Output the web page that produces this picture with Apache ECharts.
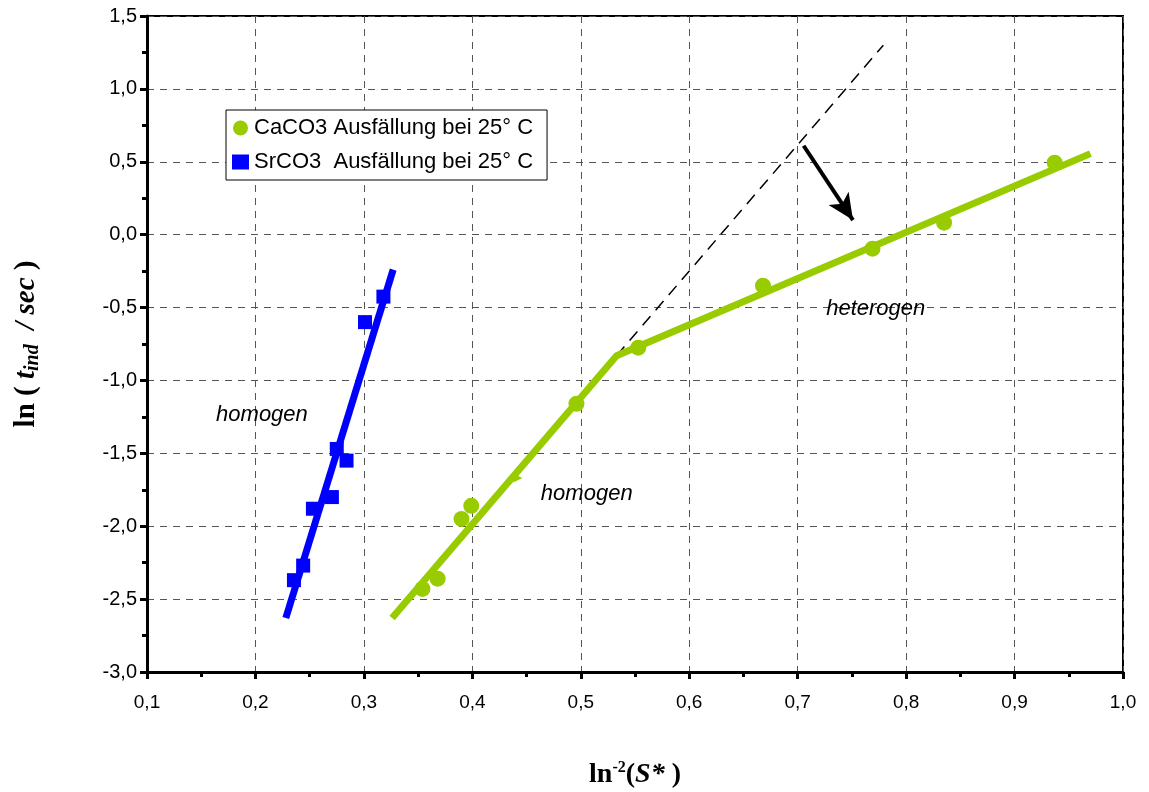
<!DOCTYPE html>
<html>
<head>
<meta charset="utf-8">
<script src="https://cdn.jsdelivr.net/npm/echarts@6/dist/echarts.min.js"></script>
<style>
  html, body { margin: 0; padding: 0; background: #fff; }
  #main { width: 1149px; height: 792px; }
</style>
</head>
<body>
<div id="main"></div>
<script>
// Messpunkte
var caco3X = [0.354, 0.368, 0.390, 0.399, 0.496, 0.553, 0.668, 0.769, 0.835, 0.937];
var caco3Y = [-2.43, -2.36, -1.95, -1.86, -1.16, -0.775, -0.35, -0.096, 0.082, 0.494];
var srco3X = [0.2355, 0.244, 0.253, 0.2705, 0.275, 0.284, 0.301, 0.318];
var srco3Y = [-2.37, -2.27, -1.88, -1.80, -1.47, -1.55, -0.60, -0.425];

// Ausgleichsgeraden
var caFitX = [0.326, 0.533, 0.970];
var caFitY = [-2.63, -0.83, 0.556];
var srFitX = [0.228, 0.327];
var srFitY = [-2.63, -0.24];
var extX = [0.533, 0.779];
var extY = [-0.83, 1.30];
var arrowX = [0.7055, 0.751];
var arrowY = [0.61, 0.10];

// Beschriftungen
var notes = [
  { name: 'homogen', x: 0.206, y: -1.235 },
  { name: 'homogen', x: 0.5055, y: -1.776 },
  { name: 'heterogen', x: 0.772, y: -0.508 }
];

function pairs(xs, ys) {
  return xs.map(function (x, i) { return [x, ys[i]]; });
}

var green = '#99cc00';
var blue = '#0000ff';
var fmt = function (v) { return v.toFixed(1).replace('.', ','); };

var myChart = echarts.init(document.getElementById('main'));
var option = {
  animation: false,
  backgroundColor: '#fff',
  grid: {
    left: 147, right: 26, top: 16, bottom: 120,
    outerBoundsMode: 'none',
    show: true, borderColor: '#000', borderWidth: 2
  },
  legend: {
    data: [
      { name: 'CaCO3 Ausfällung bei 25° C', icon: 'circle' },
      { name: 'SrCO3  Ausfällung bei 25° C', icon: 'rect' }
    ],
    orient: 'vertical',
    left: 226, top: 110,
    backgroundColor: '#fff',
    borderColor: '#000',
    borderWidth: 1,
    borderRadius: 0,
    padding: [7, 14, 7, 6],
    itemGap: 12,
    itemWidth: 17, itemHeight: 15,
    textStyle: { fontFamily: 'Liberation Sans', fontSize: 22, color: '#000' }
  },
  xAxis: {
    type: 'value', min: 0.1, max: 1.0, interval: 0.1,
    name: '{b|ln}{sup|-2}{b|(}{bi|S*}{b| )}',
    nameLocation: 'middle', nameGap: 88,
    nameTextStyle: {
      rich: {
        b: { fontFamily: 'Liberation Serif', fontWeight: 'bold', fontSize: 28, color: '#000' },
        bi: { fontFamily: 'Liberation Serif', fontWeight: 'bold', fontStyle: 'italic', fontSize: 28, color: '#000' },
        sup: { fontFamily: 'Liberation Serif', fontWeight: 'bold', fontSize: 16, color: '#000', padding: [0, 0, 14, 0] }
      }
    },
    axisLine: { show: true, onZero: false, lineStyle: { color: '#000', width: 3 } },
    axisTick: { show: true, length: 7, lineStyle: { color: '#000', width: 3 } },
    minorTick: { show: true, splitNumber: 2, length: 5, lineStyle: { color: '#000', width: 3 } },
    axisLabel: {
      margin: 21, fontFamily: 'Liberation Sans', fontSize: 19, color: '#000',
      formatter: fmt
    },
    splitLine: { show: true, lineStyle: { color: '#555', width: 1, type: [7, 6] } }
  },
  yAxis: {
    type: 'value', min: -3, max: 1.5, interval: 0.5,
    name: '{b|ln ( }{bi|t}{sub|ind}{bi|  / sec }{b|)}',
    nameLocation: 'middle', nameGap: 104,
    nameTextStyle: {
      rich: {
        b: { fontFamily: 'Liberation Serif', fontWeight: 'bold', fontSize: 29, color: '#000' },
        bi: { fontFamily: 'Liberation Serif', fontWeight: 'bold', fontStyle: 'italic', fontSize: 29, color: '#000' },
        sub: { fontFamily: 'Liberation Serif', fontWeight: 'bold', fontStyle: 'italic', fontSize: 20, color: '#000', padding: [12, 0, 0, 0] }
      }
    },
    axisLine: { show: true, onZero: false, lineStyle: { color: '#000', width: 3 } },
    axisTick: { show: true, length: 7, lineStyle: { color: '#000', width: 3 } },
    minorTick: { show: true, splitNumber: 2, length: 5, lineStyle: { color: '#000', width: 3 } },
    axisLabel: {
      margin: 10, fontFamily: 'Liberation Sans', fontSize: 20, color: '#000',
      formatter: fmt
    },
    splitLine: { show: true, lineStyle: { color: '#555', width: 1, type: [7, 6] } }
  },
  series: [
    {
      name: 'Verlängerung', type: 'line', data: pairs(extX, extY),
      showSymbol: false, silent: true, z: 3,
      lineStyle: { color: '#000', width: 1.5, type: [12, 8] },
      markLine: {
        silent: true, symbol: ['none', 'arrow'], symbolSize: [18, 26],
        lineStyle: { color: '#000', width: 4, type: 'solid' },
        label: { show: false },
        data: [[{ coord: [arrowX[0], arrowY[0]] }, { coord: [arrowX[1], arrowY[1]] }]]
      }
    },
    {
      name: 'fitSr', type: 'line', data: pairs(srFitX, srFitY),
      showSymbol: false, z: 4,
      lineStyle: { color: blue, width: 7 }
    },
    {
      name: 'fitCa', type: 'line', data: pairs(caFitX, caFitY),
      showSymbol: false, z: 4,
      lineStyle: { color: green, width: 7 }
    },
    {
      name: 'CaCO3 Ausfällung bei 25° C', type: 'scatter',
      data: pairs(caco3X, caco3Y), symbol: 'circle', symbolSize: 16, z: 5,
      itemStyle: { color: green, opacity: 1 }
    },
    {
      name: 'SrCO3  Ausfällung bei 25° C', type: 'scatter',
      data: pairs(srco3X, srco3Y), symbol: 'rect', symbolSize: 14, z: 5,
      itemStyle: { color: blue, opacity: 1 }
    },
    {
      name: 'marker', type: 'scatter', data: [[0.442, -1.67]],
      symbol: 'triangle', symbolSize: 9, symbolRotate: -90, z: 3,
      itemStyle: { color: green, opacity: 1 }
    },
    {
      name: 'Texte', type: 'scatter', symbolSize: 0, silent: true, z: 6,
      itemStyle: { opacity: 1 },
      data: notes.map(function (n) { return { name: n.name, value: [n.x, n.y] }; }),
      label: {
        show: true, position: 'inside', formatter: '{b}',
        fontFamily: 'Liberation Sans', fontStyle: 'italic', fontSize: 22, color: '#000'
      }
    }
  ]
};
myChart.setOption(option);
</script>
</body>
</html>
